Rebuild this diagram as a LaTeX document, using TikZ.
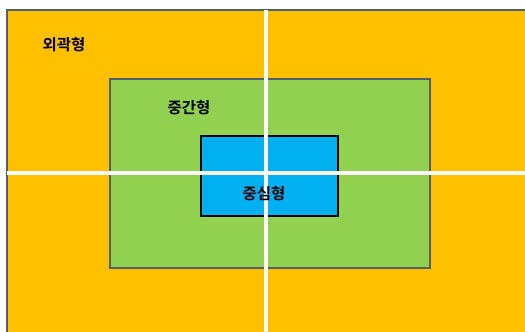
\documentclass[tikz,border=0pt]{standalone}
\usepackage{fontspec}
\newfontfamily\kr{Noto Sans CJK KR}[BoldFont={Noto Sans CJK KR Bold}]
\definecolor{outerc}{HTML}{FFC000}
\definecolor{midc}{HTML}{92D050}
\definecolor{innerc}{HTML}{00B0F0}
\definecolor{edgec}{HTML}{52606B}
\tikzset{
  lbl/.style={font=\kr\bfseries\fontsize{15.5}{18}\selectfont, text=black, inner sep=0pt},
  guide/.style={draw=white, line width=3.2pt},
}
\begin{document}
\begin{tikzpicture}[x=1pt,y=-1pt]
\useasboundingbox (0,0) rectangle (525,332);
\fill[white] (0,0) rectangle (525,332);
% outer
\fill[outerc] (7,10) rectangle (530,340);
\draw[edgec, line width=1.4pt] (7,340) -- (7,10) -- (530,10);
% middle
\draw[edgec, fill=midc, line width=1.4pt] (110,79) rectangle (430,268);
% inner
\draw[black, fill=innerc, line width=1.4pt] (201,136) rectangle (338,216);
% guides
\coordinate (vt) at (266,10);
\coordinate (vb) at (266,332);
\coordinate (hl) at (7,173);
\coordinate (hr) at (525,173);
\draw[guide] (hl) -- (hr);
\draw[guide] (vt) -- (vb);
% labels
\node[lbl] (outer) at (64,45) {외곽형};
\node[lbl] (mid) at (189,108) {중간형};
\node[lbl] (inner) at (264,194) {중심형};
\end{tikzpicture}
\end{document}
